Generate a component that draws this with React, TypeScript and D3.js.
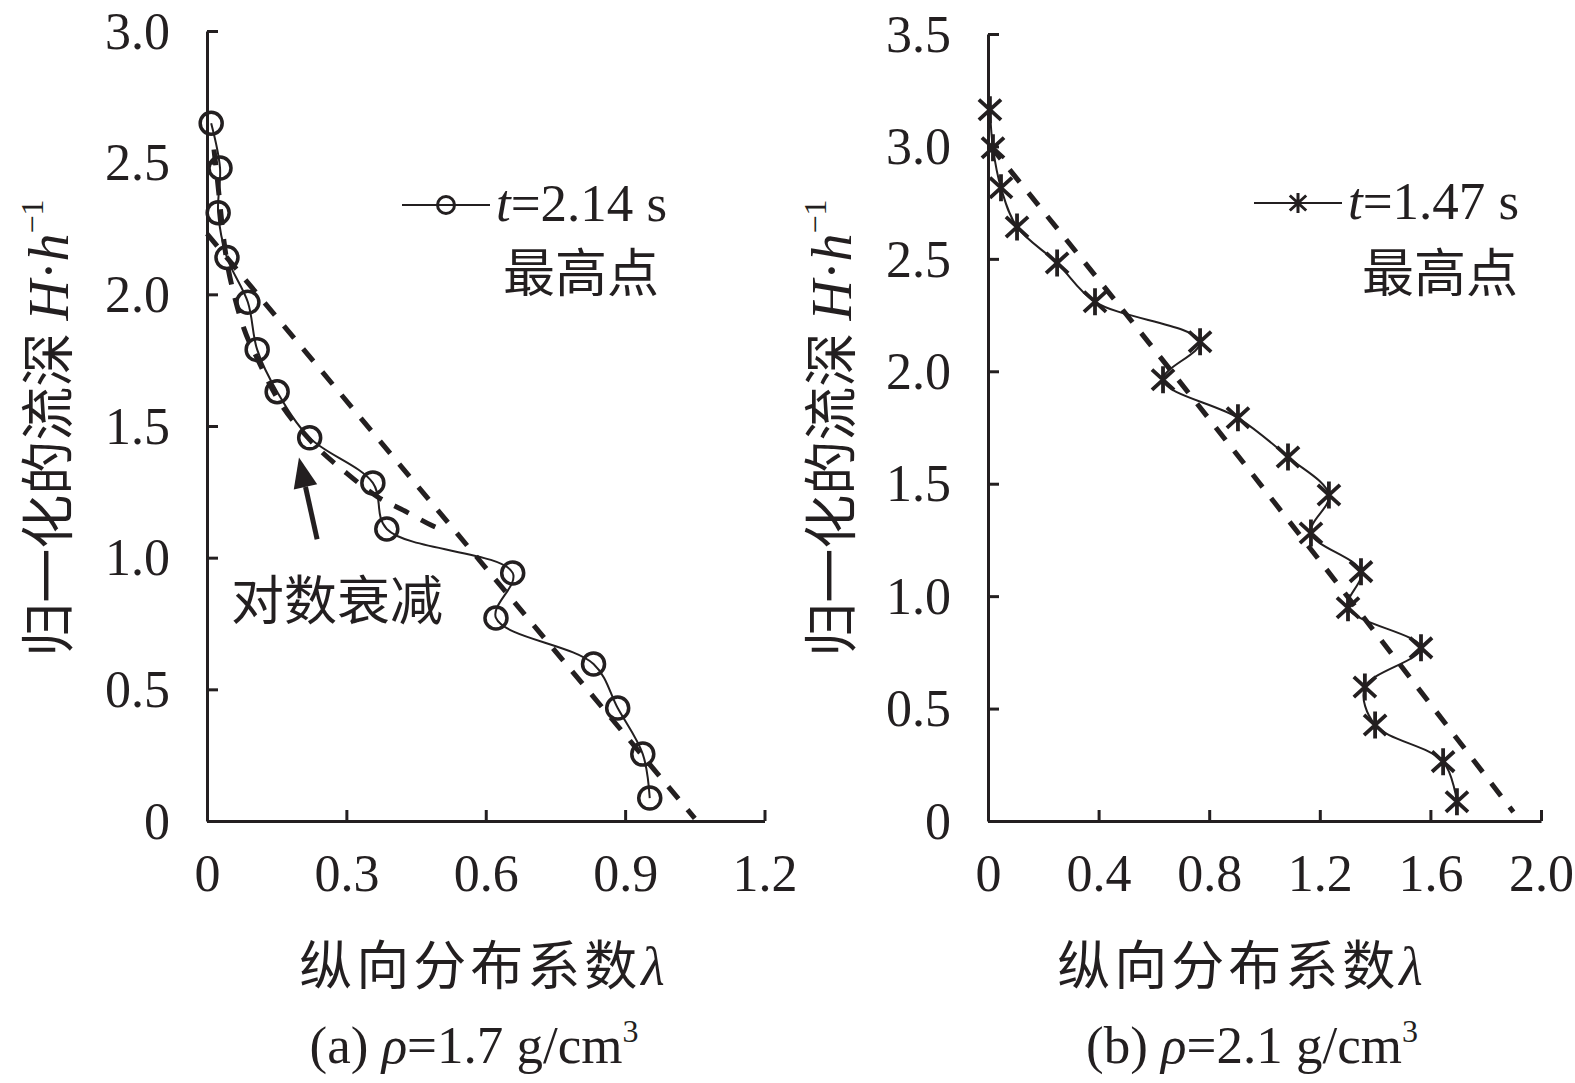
import { useEffect, useRef } from "react";
import * as d3 from "d3";

// panel (a) rho = 1.7, t = 2.14 s
const lambdaA = [0.009, 0.028, 0.024, 0.043, 0.088, 0.108, 0.151, 0.221, 0.357, 0.387, 0.658, 0.622, 0.832, 0.884, 0.938, 0.953];
const depthA = [2.65, 2.48, 2.31, 2.14, 1.97, 1.79, 1.63, 1.455, 1.284, 1.109, 0.942, 0.771, 0.596, 0.429, 0.254, 0.087];
// dashed fits
const fitLineA = [[0, 2.23], [1.05, 0.01]];
const fitLogA = [[0.015, 2.55], [0.0215, 2.45], [0.0366, 2.2], [0.0624, 1.97], [0.0796, 1.87], [0.11, 1.75], [0.15, 1.61], [0.22, 1.45], [0.301, 1.32], [0.368, 1.23], [0.426, 1.177], [0.482, 1.124], [0.512, 1.1]];

// panel (b) rho = 2.1, t = 1.47 s
const lambdaB = [0.007, 0.018, 0.047, 0.105, 0.25, 0.387, 0.767, 0.633, 0.904, 1.085, 1.233, 1.168, 1.349, 1.302, 1.566, 1.363, 1.4, 1.646, 1.696];
const depthB = [3.163, 2.994, 2.816, 2.642, 2.482, 2.309, 2.131, 1.962, 1.793, 1.619, 1.45, 1.281, 1.109, 0.948, 0.77, 0.596, 0.427, 0.264, 0.086];
const fitB = [[0.01, 3.0], [0.45, 2.33], [1.9, 0.04]];

const ticksXA = [0, 0.3, 0.6, 0.9, 1.2];
const ticksYA = [0, 0.5, 1.0, 1.5, 2.0, 2.5, 3.0];
const ticksXB = [0, 0.4, 0.8, 1.2, 1.6, 2.0];
const ticksYB = [0, 0.5, 1.0, 1.5, 2.0, 2.5, 3.0, 3.5];

const ink = "#231f20";
const serif = "'Liberation Serif', 'Times New Roman', serif";
const cjk = "'Noto Sans CJK SC', sans-serif";

const fmt = (d: number) => (d === 0 ? "0" : d.toFixed(1));

function drawPanel(svg: any, cfg: any) {
    const x = d3.scaleLinear().domain(cfg.xDomain).range(cfg.xRange);
    const y = d3.scaleLinear().domain(cfg.yDomain).range(cfg.yRange);
    const g = svg.append("g");

    // axes
    const xAxis = g.append("g")
        .attr("transform", `translate(0,${cfg.yRange[0]})`)
        .call(d3.axisBottom(x).tickValues(cfg.xTicks).tickFormat(fmt).tickSizeInner(-11).tickSizeOuter(0).tickPadding(33));
    const yAxis = g.append("g")
        .attr("transform", `translate(${cfg.xRange[0]},0)`)
        .call(d3.axisLeft(y).tickValues(cfg.yTicks).tickFormat(fmt).tickSizeInner(-11).tickSizeOuter(0).tickPadding(37));
    [xAxis, yAxis].forEach((a) => {
        a.select(".domain").attr("stroke", ink).attr("stroke-width", 3);
        a.selectAll(".tick line").attr("stroke", ink).attr("stroke-width", 3);
        a.selectAll("text").attr("font-size", 52).attr("font-family", serif).attr("fill", ink);
    });
    yAxis.selectAll("text").attr("dy", "0.33em");

    // dashed fits
    cfg.fits.forEach((f: any) => {
        g.append("path")
            .attr("d", d3.line().x((d: any) => x(d[0])).y((d: any) => y(d[1])).curve(d3.curveMonotoneX)(f))
            .attr("fill", "none").attr("stroke", ink).attr("stroke-width", 5).attr("stroke-dasharray", "16 14");
    });

    // data line
    const pts = cfg.xs.map((v: number, i: number) => [v, cfg.ys[i]]);
    g.append("path")
        .attr("d", d3.line().x((d: any) => x(d[0])).y((d: any) => y(d[1])).curve(d3.curveCatmullRom.alpha(0.5))(pts))
        .attr("fill", "none").attr("stroke", ink).attr("stroke-width", 2);

    pts.forEach((d: number[]) => cfg.marker(g, x(d[0]), y(d[1]), false));

    // legend
    const lg = cfg.legend;
    g.append("line").attr("x1", lg.x1).attr("x2", lg.x2).attr("y1", lg.y).attr("y2", lg.y)
        .attr("stroke", ink).attr("stroke-width", 2);
    cfg.marker(g, (lg.x1 + lg.x2) / 2, lg.y, true);
    const lt = g.append("text").attr("x", lg.x2 + 6).attr("y", lg.y + 16)
        .attr("font-family", serif).attr("font-size", 53).attr("fill", ink);
    lt.append("tspan").attr("font-style", "italic").text("t");
    lt.append("tspan").text(lg.label);
    g.append("text").attr("x", lg.subX).attr("y", 292).attr("text-anchor", "middle")
        .attr("font-family", cjk).attr("font-size", 52).attr("fill", ink).text("最高点");

    // axis titles
    const cx = cfg.titleX;
    const xt = g.append("text").attr("x", cx).attr("y", 985).attr("text-anchor", "middle").attr("fill", ink);
    xt.append("tspan").attr("font-family", cjk).attr("font-size", 53).attr("letter-spacing", 4).text("纵向分布系数");
    xt.append("tspan").attr("font-family", serif).attr("font-size", 54).attr("font-style", "italic").text("λ");

    const yt = g.append("text").attr("transform", `translate(${cfg.yTitleX},428) rotate(-90)`)
        .attr("text-anchor", "middle").attr("fill", ink);
    yt.append("tspan").attr("font-family", cjk).attr("font-size", 54).text("归一化的流深 ");
    yt.append("tspan").attr("font-family", serif).attr("font-size", 56).attr("font-style", "italic").text("H");
    yt.append("tspan").attr("font-family", serif).attr("font-size", 56).text("·");
    yt.append("tspan").attr("font-family", serif).attr("font-size", 56).attr("font-style", "italic").text("h");
    yt.append("tspan").attr("font-family", serif).attr("font-size", 32).attr("dy", -25).text("−1");

    const cap = g.append("text").attr("x", cfg.capX).attr("y", 1063).attr("text-anchor", "middle")
        .attr("font-family", serif).attr("font-size", 53).attr("fill", ink);
    cap.append("tspan").text(cfg.capLetter + " ");
    cap.append("tspan").attr("font-style", "italic").text("ρ");
    cap.append("tspan").text(cfg.capText);
    cap.append("tspan").attr("font-size", 32).attr("dy", -21).text("3");

    return { x, y, g };
}

function circleMarker(g: any, cx: number, cy: number, small: boolean) {
    g.append("circle").attr("cx", cx).attr("cy", cy).attr("r", small ? 8.5 : 11)
        .attr("fill", "none").attr("stroke", ink).attr("stroke-width", small ? 3 : 3.5);
}

function starMarker(g: any, cx: number, cy: number, small: boolean) {
    const r = small ? 10 : 13.5;
    const dx = r * 0.82;
    const dy = r * 0.75;
    const p = `M${cx},${cy - r}V${cy + r}M${cx - dx},${cy - dy}L${cx + dx},${cy + dy}M${cx - dx},${cy + dy}L${cx + dx},${cy - dy}`;
    g.append("path").attr("d", p).attr("fill", "none").attr("stroke", ink).attr("stroke-width", small ? 3 : 3.8);
}

export default function App() {
    const svgRef = useRef<SVGSVGElement | null>(null);

    useEffect(() => {
        if (!svgRef.current) return;
        const svg = d3.select(svgRef.current);
        svg.selectAll("*").remove();

        const a = drawPanel(svg, {
            xDomain: [0, 1.2], xRange: [207, 764.5],
            yDomain: [0, 3], yRange: [821, 31],
            xTicks: ticksXA, yTicks: ticksYA,
            xs: lambdaA, ys: depthA,
            fits: [fitLineA, fitLogA],
            marker: circleMarker,
            legend: { x1: 402, x2: 490, y: 205, label: "=2.14 s", subX: 581 },
            titleX: 482, yTitleX: 68, capX: 474, capLetter: "(a)", capText: "=1.7 g/cm",
        });

        // arrow for the log decay annotation
        const tip = [a.x(0.198), a.y(1.38)];
        const tail = [a.x(0.237), a.y(1.07)];
        const ang = Math.atan2(tail[1] - tip[1], tail[0] - tip[0]);
        const hl = 30, hw = 12;
        const bx = tip[0] + hl * Math.cos(ang), by = tip[1] + hl * Math.sin(ang);
        a.g.append("line").attr("x1", bx).attr("y1", by).attr("x2", tail[0]).attr("y2", tail[1])
            .attr("stroke", ink).attr("stroke-width", 5);
        a.g.append("path")
            .attr("d", `M${tip[0]},${tip[1]}L${bx + hw * Math.sin(ang)},${by - hw * Math.cos(ang)}L${bx - hw * Math.sin(ang)},${by + hw * Math.cos(ang)}Z`)
            .attr("fill", ink);
        a.g.append("text").attr("x", 231).attr("y", 620)
            .attr("font-family", cjk).attr("font-size", 53).attr("fill", ink).text("对数衰减");

        drawPanel(svg, {
            xDomain: [0, 2], xRange: [988, 1541],
            yDomain: [0, 3.5], yRange: [821, 34],
            xTicks: ticksXB, yTicks: ticksYB,
            xs: lambdaB, ys: depthB,
            fits: [fitB],
            marker: starMarker,
            legend: { x1: 1254, x2: 1342, y: 203, label: "=1.47 s", subX: 1440 },
            titleX: 1240, yTitleX: 851, capX: 1252, capLetter: "(b)", capText: "=2.1 g/cm",
        });
    }, []);

    return (
        <svg
            ref={svgRef}
            width={1575}
            height={1083}
            style={{ position: "absolute", left: 0, top: 0, background: "#fff" }}
        />
    );
}
